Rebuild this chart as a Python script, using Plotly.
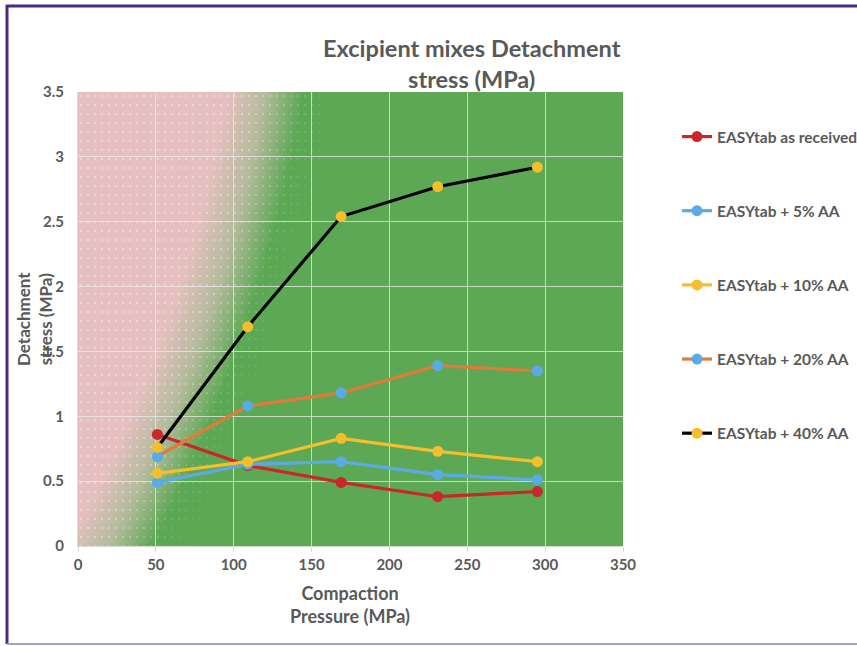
import base64
import plotly.graph_objects as go

# ---------------- data ----------------
pressure = [51, 109, 169, 231, 295]
series_names = ["EASYtab as received", "EASYtab + 5% AA", "EASYtab + 10% AA",
                "EASYtab + 20% AA", "EASYtab + 40% AA"]
as_received = [0.86, 0.62, 0.49, 0.38, 0.42]
aa5 = [0.49, 0.63, 0.65, 0.55, 0.51]
aa10 = [0.56, 0.65, 0.83, 0.73, 0.65]
aa20 = [0.69, 1.08, 1.18, 1.39, 1.35]
aa40 = [0.76, 1.69, 2.54, 2.77, 2.92]
x_ticks = [0, 50, 100, 150, 200, 250, 300, 350]
y_ticks = [0, 0.5, 1, 1.5, 2, 2.5, 3, 3.5]

# ---------------- layout helpers ----------------
W, H = 857, 646
L, R, T, B = 78, 234, 92, 100
PW, PH = W - L - R, H - T - B


def px(xp):
    return (xp - L) / PW


def py(yp):
    return (H - B - yp) / PH


GRAY = "#595959"
FONT = "Lato"

# background: curved pink -> green gradient with white dot texture
# (radial gradient with a far-away centre, in plot-area pixel space)
CX, CY = -1283, -253
svg = f"""<svg xmlns='http://www.w3.org/2000/svg' width='{PW}' height='{PH}' viewBox='0 0 {PW} {PH}' preserveAspectRatio='none'>
<defs>
<radialGradient id='g' gradientUnits='userSpaceOnUse' cx='{CX}' cy='{CY}' r='1530'>
<stop offset='0' stop-color='#E8C1C1'/>
<stop offset='0.950' stop-color='#E6C0C0'/>
<stop offset='0.975' stop-color='#B4BB9C'/>
<stop offset='1' stop-color='#5DA855'/>
</radialGradient>
<radialGradient id='m' gradientUnits='userSpaceOnUse' cx='{CX}' cy='{CY}' r='1570'>
<stop offset='0' stop-color='white'/>
<stop offset='0.94' stop-color='white'/>
<stop offset='1' stop-color='black'/>
</radialGradient>
<pattern id='d' width='7' height='9' patternUnits='userSpaceOnUse'>
<circle cx='3' cy='4' r='0.75' fill='white'/>
</pattern>
<mask id='mk'><rect width='{PW}' height='{PH}' fill='url(#m)'/></mask>
</defs>
<rect width='{PW}' height='{PH}' fill='url(#g)'/>
<rect width='{PW}' height='{PH}' fill='url(#d)' mask='url(#mk)' opacity='0.85'/>
</svg>"""
svg_uri = "data:image/svg+xml;base64," + base64.b64encode(svg.encode()).decode()

fig = go.Figure()

styles = [
    (as_received, "#C8282A", "#C8282A"),
    (aa5, "#5AAAE6", "#5AAAE6"),
    (aa10, "#F4BE2C", "#F4BE2C"),
    (aa20, "#E07B39", "#5AAAE6"),
    (aa40, "#000000", "#F4BE2C"),
]
for name, (vals, lc, mc) in zip(series_names, styles):
    fig.add_trace(go.Scatter(
        x=pressure, y=vals, name=name, mode="lines+markers",
        line=dict(color=lc, width=3.2),
        marker=dict(color=mc, size=11),
        legendgroup=name,
    ))

fig.update_layout(
    width=W, height=H,
    margin=dict(l=L, r=R, t=T, b=B, autoexpand=False),
    paper_bgcolor="white",
    plot_bgcolor="rgba(0,0,0,0)",
    font=dict(family=FONT, color=GRAY, size=14),
    showlegend=True,
    legend=dict(
        xref="container", yref="container",
        x=677 / W, y=1 - 120 / H, xanchor="left", yanchor="top",
        tracegroupgap=51, traceorder="grouped",
        font=dict(family=FONT, size=15.5, color=GRAY, weight="bold"),
        itemwidth=30, bgcolor="rgba(0,0,0,0)",
    ),
    images=[dict(source=svg_uri, xref="paper", yref="paper", x=0, y=1,
                 sizex=1, sizey=1, xanchor="left", yanchor="top",
                 sizing="stretch", layer="below")],
)

fig.update_xaxes(
    range=[0, 350], tickvals=x_ticks, showgrid=True,
    gridcolor="rgba(235,235,235,0.75)", gridwidth=1,
    showline=True, linecolor="#D9D9D9", linewidth=1,
    ticks="outside", ticklen=5, tickcolor="#D9D9D9",
    tickfont=dict(family=FONT, size=15, color=GRAY, weight="bold"),
    zeroline=False, fixedrange=True,
)
fig.update_yaxes(
    range=[0, 3.5], tickvals=y_ticks, showgrid=True,
    gridcolor="rgba(235,235,235,0.75)", gridwidth=1,
    showline=True, linecolor="#D9D9D9", linewidth=1,
    ticks="", ticklabelstandoff=10,
    tickfont=dict(family=FONT, size=15, color=GRAY, weight="bold"),
    zeroline=False, fixedrange=True,
)

fig.add_annotation(
    text="Excipient mixes Detachment<br>stress (MPa)", xref="paper", yref="paper",
    x=px(472), y=py(63), xanchor="center", yanchor="middle", showarrow=False,
    font=dict(family=FONT, size=23.5, color=GRAY, weight="bold"),
)
fig.add_annotation(
    text="Compaction<br>Pressure (MPa)", xref="paper", yref="paper",
    x=px(350), y=py(604), xanchor="center", yanchor="middle", showarrow=False,
    font=dict(family=FONT, size=18, color=GRAY, weight="bold"),
)
fig.add_annotation(
    text="Detachment<br>stress (MPa)", xref="paper", yref="paper",
    x=px(34), y=py(319), xanchor="center", yanchor="middle", showarrow=False,
    textangle=-90,
    font=dict(family=FONT, size=17, color=GRAY, weight="bold"),
)

# outer frame
fig.add_shape(type="line", xref="paper", yref="paper",
              x0=px(7), x1=px(7), y0=py(644), y1=py(5),
              line=dict(color="#4A2A86", width=3))
fig.add_shape(type="line", xref="paper", yref="paper",
              x0=px(6), x1=px(880), y0=py(6), y1=py(6),
              line=dict(color="#4A2A86", width=3))
fig.add_shape(type="line", xref="paper", yref="paper",
              x0=px(7), x1=px(880), y0=py(644), y1=py(644),
              line=dict(color="#A99CC6", width=2))

fig.write_html("out.html", config={"displayModeBar": False},
               post_script="document.body.style.margin='0';document.body.style.overflow='hidden';")
